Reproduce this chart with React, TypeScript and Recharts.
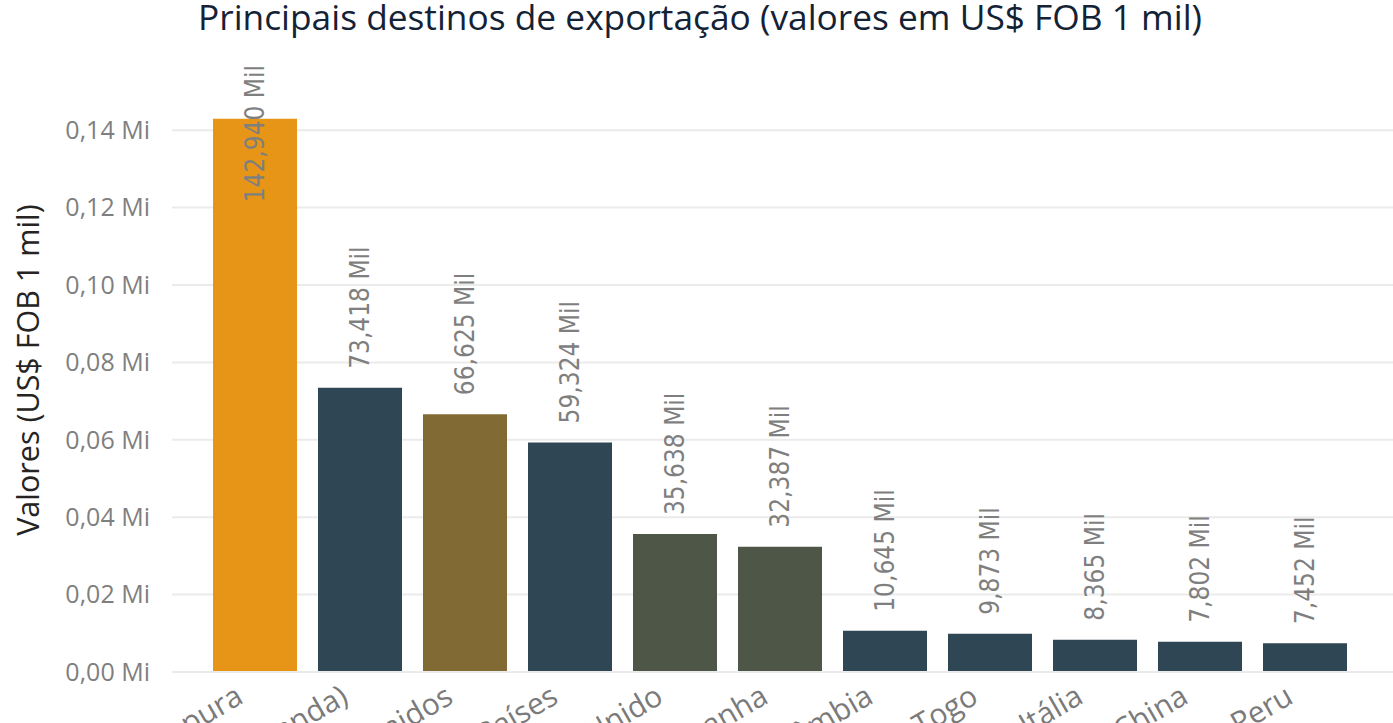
import { Bar, BarChart, CartesianGrid, Cell, LabelList, XAxis, YAxis } from "recharts"

const categories = [
  "Cingapura",
  "Países Baixos (Holanda)",
  "Estados Unidos",
  "Outros Países",
  "Reino Unido",
  "Alemanha",
  "Colômbia",
  "Togo",
  "Itália",
  "China",
  "Peru",
]
const values = [142940, 73418, 66625, 59324, 35638, 32387, 10645, 9873, 8365, 7802, 7452]
const barColors = [
  "#E69516",
  "#2F4654",
  "#826A35",
  "#2F4654",
  "#4E5648",
  "#4E5648",
  "#2F4654",
  "#2F4654",
  "#2F4654",
  "#2F4654",
  "#2F4654",
]
const yTicks = [0, 20000, 40000, 60000, 80000, 100000, 120000, 140000]

const data = categories.map((name, i) => ({ name, value: values[i] }))

const formatMi = (v: number) => `${(v / 1000000).toFixed(2).replace(".", ",")} Mi`
const formatMil = (v: number) => `${v.toLocaleString("en-US")} Mil`

function ValueLabel(props: any) {
  const { x, y, width, value } = props
  const cx = Number(x) + Number(width) / 2
  const text = formatMil(Number(value))
  const start = Number(y) - 19
  const len = text.length * 12.3
  const clipped = start - len < 65
  const yy = clipped ? 65 : start
  return (
    <text
      x={cx}
      y={yy}
      transform={`rotate(-90, ${cx}, ${yy})`}
      textAnchor={clipped ? "end" : "start"}
      dominantBaseline="central"
      fill="#7F7F7F"
      fontSize={26}
      fontFamily="'DejaVu Sans Condensed', 'DejaVu Sans', sans-serif"
      style={{ fontStretch: "condensed" }}
    >
      {text}
    </text>
  )
}

function CategoryTick(props: any) {
  const { x, y, payload } = props
  const ax = x - 10
  const ay = y + 28
  return (
    <text
      x={ax}
      y={ay}
      transform={`rotate(-30, ${ax}, ${ay})`}
      textAnchor="end"
      fill="#7A7A7A"
      fontSize={30}
      fontFamily="'Open Sans', sans-serif"
    >
      {payload.value}
    </text>
  )
}

function AxisTitle() {
  return (
    <text
      x={27}
      y={370}
      transform="rotate(-90, 27, 370)"
      textAnchor="middle"
      dominantBaseline="central"
      fill="#252423"
      fontSize={30.5}
      fontFamily="'Open Sans', sans-serif"
    >
      Valores (US$ FOB 1 mil)
    </text>
  )
}

export default function App() {
  return (
    <div style={{ position: "absolute", left: 0, top: 0, width: 1393, height: 900, background: "#fff" }}>
      <svg width={1393} height={50} style={{ position: "absolute", left: 0, top: 0 }}>
        <text
          x={700}
          y={30}
          textAnchor="middle"
          fill="#142236"
          fontSize={35.3}
          fontFamily="'Open Sans', sans-serif"
        >
          Principais destinos de exportação (valores em US$ FOB 1 mil)
        </text>
      </svg>
      <BarChart
        width={1393}
        height={900}
        data={data}
        margin={{ top: 91.5, right: 0, bottom: 0, left: 0 }}
        barCategoryGap="10%"
      >
        <CartesianGrid vertical={false} horizontalValues={yTicks} stroke="#EBEBEB" strokeWidth={2} />
        <XAxis
          dataKey="name"
          height={228}
          interval={0}
          tickLine={false}
          tickSize={0}
          axisLine={{ stroke: "#EBEBEB", strokeWidth: 2 }}
          padding={{ left: 30.5, right: 35.5 }}
          tick={<CategoryTick />}
        />
        <YAxis
          width={172}
          domain={[0, 150000]}
          ticks={yTicks}
          tickFormatter={formatMi}
          axisLine={false}
          tickLine={false}
          tickSize={0}
          tickMargin={22}
          tick={{ fill: "#7F7F7F", fontSize: 25, fontFamily: "'Open Sans', sans-serif" }}
          label={<AxisTitle />}
        />
        <Bar dataKey="value" isAnimationActive={false}>
          {data.map((d, i) => (
            <Cell key={d.name} fill={barColors[i]} />
          ))}
          <LabelList dataKey="value" content={<ValueLabel />} />
        </Bar>
      </BarChart>
    </div>
  )
}
